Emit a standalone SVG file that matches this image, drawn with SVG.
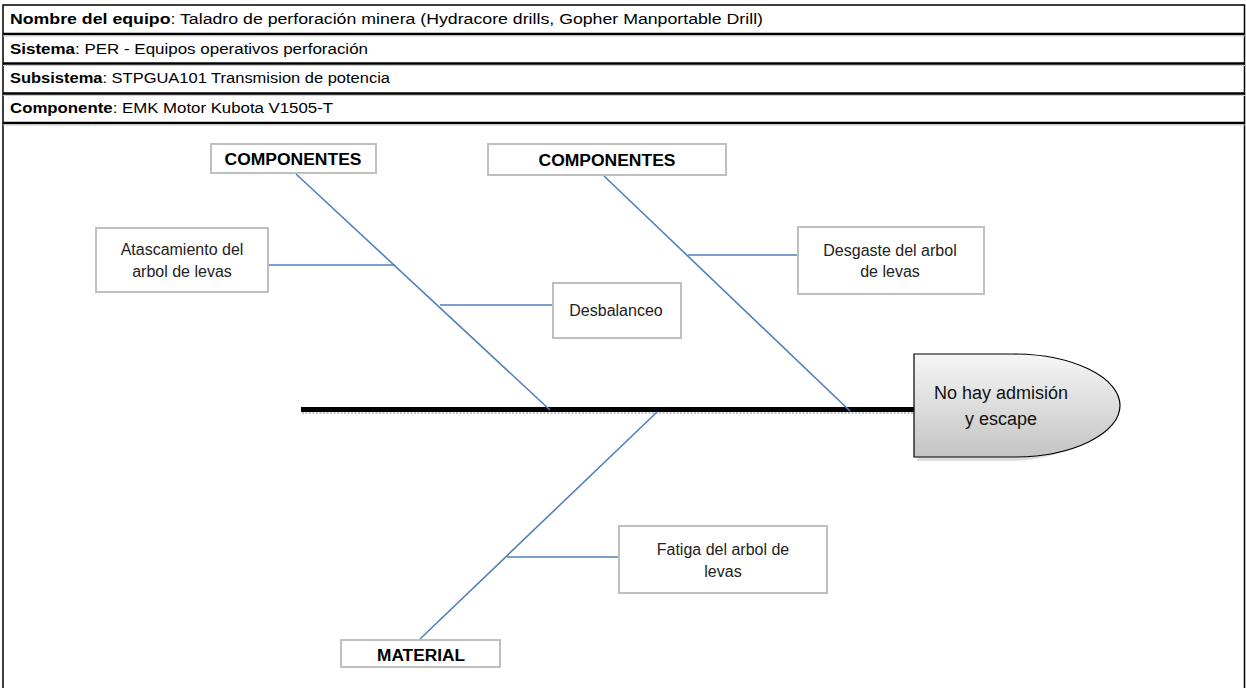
<svg xmlns="http://www.w3.org/2000/svg" width="1246" height="688" viewBox="0 0 1246 688">
<style>
.hdr{font-family:"Liberation Sans",Arial,sans-serif;font-size:14px;fill:#000}
.b{font-weight:bold}
.box{fill:#fff;stroke:#bfbfbf;stroke-width:2}
.lbl{font-family:"Liberation Sans",Arial,sans-serif;font-size:16px;fill:#222;text-anchor:middle}
.head{font-family:"Liberation Sans",Arial,sans-serif;font-size:18px;fill:#111;text-anchor:middle}
.cat{font-family:"Liberation Sans",Arial,sans-serif;font-size:16px;font-weight:bold;fill:#000;text-anchor:middle}
.bone{stroke:#4f81bd;stroke-width:1.6;fill:none}
.sep{stroke:#000;stroke-width:2.5}
</style>
<defs>
<linearGradient id="headGrad" x1="0" y1="0" x2="0" y2="1">
<stop offset="0" stop-color="#f6f6f6"/>
<stop offset="1" stop-color="#c4c4c4"/>
</linearGradient>
</defs>
<rect x="0" y="0" width="1246" height="688" fill="#fff"/>
<g id="header">
<rect x="3" y="5" width="1241.5" height="690" fill="none" stroke="#000" stroke-width="1.5"/>
<line class="sep" x1="3" y1="34" x2="1245" y2="34"/>
<line class="sep" x1="3" y1="63.5" x2="1245" y2="63.5"/>
<line class="sep" x1="3" y1="93.5" x2="1245" y2="93.5"/>
<line class="sep" x1="3" y1="123" x2="1245" y2="123"/>
<line x1="3" y1="36" x2="1245" y2="36" stroke="#ccc" stroke-width="1"/>
<line x1="3" y1="65.5" x2="1245" y2="65.5" stroke="#ccc" stroke-width="1"/>
<line x1="3" y1="95.5" x2="1245" y2="95.5" stroke="#ccc" stroke-width="1"/>
<line x1="3" y1="125" x2="1245" y2="125" stroke="#ccc" stroke-width="1"/>
<text class="hdr" x="10" y="24" textLength="753" lengthAdjust="spacingAndGlyphs"><tspan class="b">Nombre del equipo</tspan>: Taladro de perforación minera (Hydracore drills, Gopher Manportable Drill)</text>
<text class="hdr" x="10" y="54" textLength="358" lengthAdjust="spacingAndGlyphs"><tspan class="b">Sistema</tspan>: PER - Equipos operativos perforación</text>
<text class="hdr" x="10" y="83" textLength="380" lengthAdjust="spacingAndGlyphs"><tspan class="b">Subsistema</tspan>: STPGUA101 Transmision de potencia</text>
<text class="hdr" x="10" y="113" textLength="323" lengthAdjust="spacingAndGlyphs"><tspan class="b">Componente</tspan>: EMK Motor Kubota V1505-T</text>
</g>
<g id="connectors">
<line x1="302" y1="413" x2="914" y2="413" stroke="#999" stroke-width="2" stroke-dasharray="2,1.5" opacity="0.6"/>
<line x1="301" y1="409.5" x2="914" y2="409.5" stroke="#000" stroke-width="5"/>
<line class="bone" x1="296" y1="174" x2="550" y2="410"/>
<line class="bone" x1="604" y1="176" x2="850" y2="411"/>
<line class="bone" x1="420" y1="639" x2="657" y2="412"/>
<line class="bone" x1="268" y1="265" x2="395" y2="265"/>
<line class="bone" x1="440" y1="305" x2="553" y2="305"/>
<line class="bone" x1="688" y1="255" x2="798" y2="255"/>
<line class="bone" x1="507" y1="557" x2="619" y2="557"/>
</g>
<g id="head">
<path d="M917,358 H1016 A107,52 0 0 1 1016,461 H917 Z" fill="#aaa" opacity="0.4"/>
<path d="M914,354 H1013 A107,51.5 0 0 1 1013,457 H914 Z" fill="url(#headGrad)" stroke="#000" stroke-width="1.2"/>
<text class="head" x="1001" y="399">No hay admisión</text>
<text class="head" x="1001" y="425">y escape</text>
</g>
<g id="cat-componentes-1">
<rect class="box" x="211" y="144" width="165" height="29"/>
<text class="cat" x="293" y="165" textLength="137" lengthAdjust="spacingAndGlyphs">COMPONENTES</text>
</g>
<g id="cat-componentes-2">
<rect class="box" x="488" y="144" width="238" height="31"/>
<text class="cat" x="607" y="166" textLength="137" lengthAdjust="spacingAndGlyphs">COMPONENTES</text>
</g>
<g id="cat-material">
<rect class="box" x="341" y="640" width="159" height="27"/>
<text class="cat" x="421" y="661" textLength="88" lengthAdjust="spacingAndGlyphs">MATERIAL</text>
</g>
<g id="cause-atascamiento">
<rect class="box" x="96" y="228" width="172" height="64"/>
<text class="lbl" x="182" y="255">Atascamiento del</text>
<text class="lbl" x="182" y="277">arbol de levas</text>
</g>
<g id="cause-desbalanceo">
<rect class="box" x="553" y="283" width="128" height="55"/>
<text class="lbl" x="616" y="316">Desbalanceo</text>
</g>
<g id="cause-desgaste">
<rect class="box" x="798" y="227" width="186" height="67"/>
<text class="lbl" x="890" y="256">Desgaste del arbol</text>
<text class="lbl" x="890" y="277">de levas</text>
</g>
<g id="cause-fatiga">
<rect class="box" x="619" y="526" width="208" height="67"/>
<text class="lbl" x="723" y="555">Fatiga del arbol de</text>
<text class="lbl" x="723" y="577">levas</text>
</g>
</svg>
